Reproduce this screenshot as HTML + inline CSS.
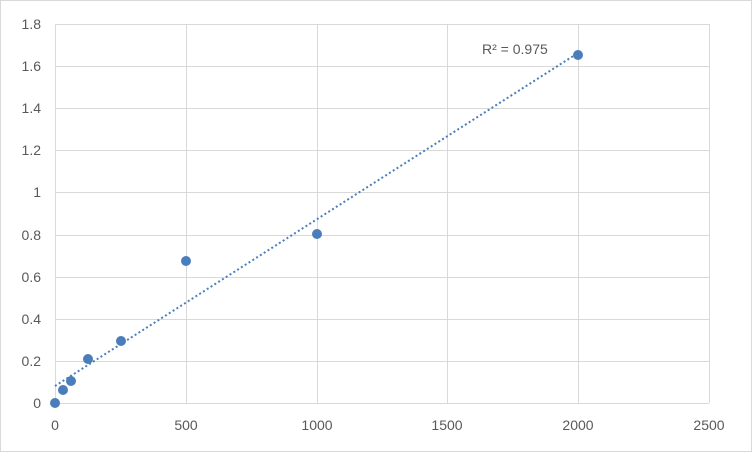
<!DOCTYPE html>
<html><head><style>
html,body{margin:0;padding:0;background:#fff;}
svg{display:block;}
text{font-family:"Liberation Sans",sans-serif;font-size:14px;fill:#595959;}
</style></head><body>
<svg width="752" height="452" xmlns="http://www.w3.org/2000/svg">
<rect x="0.5" y="0.5" width="751" height="451" fill="#fff" stroke="#d9d9d9"/>
<g stroke="#d9d9d9" stroke-width="1">
<line x1="55" y1="24.5" x2="709" y2="24.5"/>
<line x1="55" y1="66.5" x2="709" y2="66.5"/>
<line x1="55" y1="108.5" x2="709" y2="108.5"/>
<line x1="55" y1="150.5" x2="709" y2="150.5"/>
<line x1="55" y1="192.5" x2="709" y2="192.5"/>
<line x1="55" y1="235.5" x2="709" y2="235.5"/>
<line x1="55" y1="277.5" x2="709" y2="277.5"/>
<line x1="55" y1="319.5" x2="709" y2="319.5"/>
<line x1="55" y1="361.5" x2="709" y2="361.5"/>
<line x1="55" y1="403.5" x2="709" y2="403.5"/>
<line x1="55.5" y1="24" x2="55.5" y2="403"/>
<line x1="186.5" y1="24" x2="186.5" y2="403"/>
<line x1="317.5" y1="24" x2="317.5" y2="403"/>
<line x1="447.5" y1="24" x2="447.5" y2="403"/>
<line x1="578.5" y1="24" x2="578.5" y2="403"/>
<line x1="709.5" y1="24" x2="709.5" y2="403"/>
</g>
<g text-anchor="end">
<text x="41" y="29">1.8</text><text x="41" y="71">1.6</text><text x="41" y="113">1.4</text>
<text x="41" y="155">1.2</text><text x="41" y="197">1</text><text x="41" y="240">0.8</text>
<text x="41" y="282">0.6</text><text x="41" y="324">0.4</text><text x="41" y="366">0.2</text>
<text x="41" y="408">0</text>
</g>
<g text-anchor="middle">
<text x="55" y="430">0</text><text x="186" y="430">500</text><text x="317" y="430">1000</text>
<text x="447" y="430">1500</text><text x="578" y="430">2000</text><text x="709" y="430">2500</text>
</g>
<line x1="55" y1="386" x2="578" y2="53" stroke="#4a7ebb" stroke-width="2" stroke-dasharray="2,2.5"/>
<g fill="#4a7ebb">
<circle cx="55" cy="403" r="5"/><circle cx="63" cy="390" r="5"/><circle cx="71" cy="381" r="5"/>
<circle cx="88" cy="359" r="5"/><circle cx="121" cy="341" r="5"/><circle cx="186" cy="261" r="5"/>
<circle cx="317" cy="234" r="5"/><circle cx="578" cy="55" r="5"/>
</g>
<text x="482" y="54">R² = 0.975</text>
</svg>
</body></html>
